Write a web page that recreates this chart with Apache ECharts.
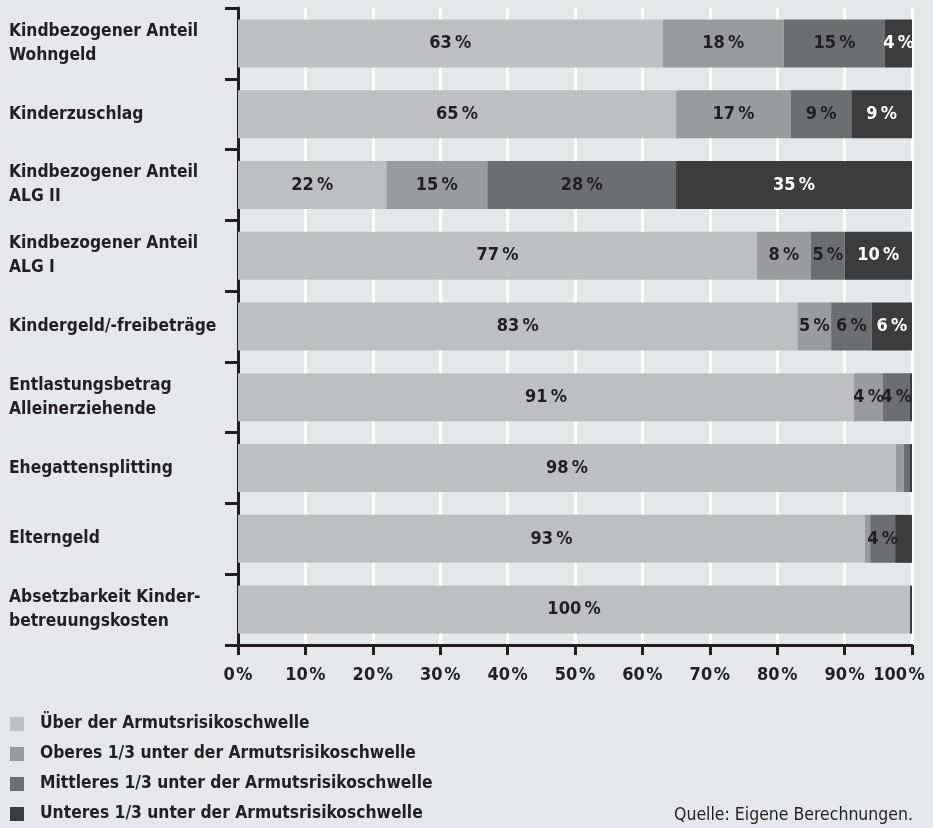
<!DOCTYPE html>
<html><head><meta charset="utf-8">
<script src="https://cdn.jsdelivr.net/npm/echarts@6/dist/echarts.min.js"></script>
<style>html,body{margin:0;padding:0;background:#e6e7e9}#c{width:933px;height:828px}</style>
</head><body><div id="c"></div>
<script>
const categories = [
  'Kindbezogener Anteil\nWohngeld',
  'Kinderzuschlag',
  'Kindbezogener Anteil\nALG II',
  'Kindbezogener Anteil\nALG I',
  'Kindergeld/-freibeträge',
  'Entlastungsbetrag\nAlleinerziehende',
  'Ehegattensplitting',
  'Elterngeld',
  'Absetzbarkeit Kinder-\nbetreuungskosten'
];
const seriesNames = [
  'Über der Armutsrisikoschwelle',
  'Oberes 1/3 unter der Armutsrisikoschwelle',
  'Mittleres 1/3 unter der Armutsrisikoschwelle',
  'Unteres 1/3 unter der Armutsrisikoschwelle'
];
const ueber    = [63, 65, 22, 77, 83, 91.4, 97.6, 93.0, 99.7];
const oberes   = [18, 17, 15, 8, 5, 4.3, 1.2, 0.8, 0];
const mittleres= [15, 9, 28, 5, 6, 4.0, 0.9, 3.7, 0];
const unteres  = [4, 9, 35, 10, 6, 0.3, 0.3, 2.5, 0.3];
const xTicks = [0,10,20,30,40,50,60,70,80,90,100];
const sourceText = 'Quelle: Eigene Berechnungen.';

const FONT = '"Liberation Sans Narrow","DejaVu Sans Condensed","Roboto Condensed",sans-serif';
const colors = ['#bebfc1','#9a9b9d','#6d6e70','#3c3c3d'];
const labelColors = ['#231f20','#231f20','#231f20','#ffffff'];
const data = [ueber, oberes, mittleres, unteres];

const chart = echarts.init(document.getElementById('c'));
chart.setOption({
  backgroundColor: '#e6e7e9',
  animation: false,
  textStyle: {fontFamily: FONT},
  grid: {left: 238, right: 21, top: 8, bottom: 183, containLabel: false, outerBoundsMode: 'none'},
  xAxis: {
    type: 'value', min: 0, max: 100, interval: 10,
    axisLine: {show: true, lineStyle: {color: '#231f20', width: 3}},
    axisTick: {show: true, length: 10, lineStyle: {color: '#231f20', width: 3}},
    axisLabel: {
      margin: 21, color: '#231f20', fontSize: 18, fontWeight: 'bold', fontFamily: FONT,
      formatter: v => {
        if (!xTicks.includes(v)) return '';
        const t = v + '\u200a%';
        return v === 100 ? '{last|' + t + '}' : t;
      },
      rich: {
        last: {padding: [0, 26, 0, 0], color: '#231f20', fontSize: 18, fontWeight: 'bold', fontFamily: FONT}
      }
    },
    splitLine: {show: true, lineStyle: {color: '#ffffff', width: 3}}
  },
  yAxis: {
    type: 'category', data: categories, inverse: true,
    axisLine: {show: true, lineStyle: {color: '#231f20', width: 3}},
    axisTick: {show: true, length: 13, lineStyle: {color: '#231f20', width: 3}},
    axisLabel: {
      align: 'left', margin: 229, color: '#231f20', fontSize: 17.3, fontWeight: 'bold',
      lineHeight: 24, fontFamily: FONT
    },
    splitLine: {show: false}
  },
  legend: {
    orient: 'vertical', left: 10, top: 715, padding: 0, itemWidth: 14, itemHeight: 14, itemGap: 12,
    icon: 'rect',
    textStyle: {color: '#231f20', fontSize: 17.3, fontWeight: 'bold', fontFamily: FONT, padding: [0,0,0,11], lineHeight: 18},
    data: seriesNames
  },
  graphic: [{
    type: 'text', right: 20, top: 806,
    style: {text: sourceText, fill: '#231f20', fontSize: 17.5, fontFamily: FONT}
  }],
  series: seriesNames.map((n, i) => ({
    name: n, type: 'bar', stack: 'total', barWidth: 48,
    itemStyle: {color: colors[i]},
    label: {
      show: true, position: 'inside', color: labelColors[i], fontSize: 18, fontWeight: 'bold',
      fontFamily: FONT,
      formatter: p => p.value >= 3.5 ? Math.round(p.value) + '\u2009%' : ''
    },
    data: data[i]
  }))
});
</script></body></html>
